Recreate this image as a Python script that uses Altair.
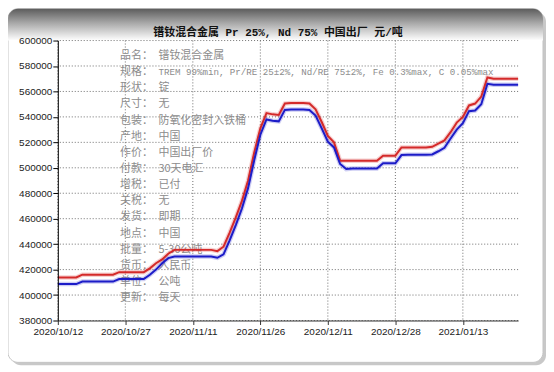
import json
import altair as alt
import pandas as pd

title_text = "镨钕混合金属 Pr 25%, Nd 75% 中国出厂 元/吨"

x_tick_index = [0, 11, 22, 33, 44, 55, 66]
x_tick_labels = ["2020/10/12", "2020/10/27", "2020/11/11", "2020/11/26",
                 "2020/12/11", "2020/12/28", "2021/01/13"]
y_ticks = [380000, 400000, 420000, 440000, 460000, 480000, 500000,
           520000, 540000, 560000, 580000, 600000]

red = [413800, 413800, 413800, 413800,
       416000, 416000, 416000, 416000, 416000, 416000,
       418000, 418000, 418000, 418000, 418000,
       421000, 425000, 428000, 432500,
       435500, 435500, 435500, 435500, 435500, 435500, 435500,
       434500, 438000, 449000, 461000, 474000, 490000, 512000, 531000, 543000,
       542000, 541500, 550500, 551000, 551000, 551000, 550500,
       546000, 536000, 525000, 520000, 505500,
       505500, 505500, 505500, 505500, 505500, 505500,
       509500, 509500, 509500,
       516000, 516000, 516000, 516000, 516000,
       516500, 519000, 521500, 528000, 535500, 540000, 549000, 550500, 556000, 571000,
       570000, 570000, 570000, 570000, 570000]

blue = [408600, 408600, 408600, 408600,
        410600, 410600, 410600, 410600, 410600, 410600,
        412600, 412600, 412600, 412600, 412600,
        416000, 420000, 425000, 429000,
        430300, 430300, 430300, 430300, 430300, 430300, 430300,
        429300, 432000, 443000, 455000, 468000, 484000, 506000, 526000, 538000,
        537000, 536500, 545500, 545800, 545800, 545800, 545500,
        541000, 531000, 520500, 516000, 503000,
        499000, 499500, 499500, 499500, 499500, 499500,
        503500, 503500, 503500,
        510000, 510200, 510200, 510200, 510200,
        510500, 513000, 515700, 523000, 530000, 535000, 544500, 545000, 550000, 566000,
        565200, 565200, 565200, 565200, 565200]

info_labels = ["品名：", "规格：", "形状：", "尺寸：", "包装：", "产地：", "作价：", "付款：",
               "增税：", "关税：", "发货：", "地点：", "批量：", "货币：", "单位：", "更新："]
info_values = ["镨钕混合金属",
               "TREM 99%min, Pr/RE 25±2%, Nd/RE 75±2%, Fe 0.3%max, C 0.05%max",
               "锭", "无", "防氧化密封入铁桶", "中国", "中国出厂价", "30天电汇",
               "已付", "无", "即期", "中国", "5-30公吨", "人民币", "公吨", "每天"]

series_names = ["red", "blue"]
series_colors = ["#d42a2a", "#1c1cc8"]

rows = []
for i, v in enumerate(red):
    rows.append({"i": i, "v": v, "s": "red"})
for i, v in enumerate(blue):
    rows.append({"i": i, "v": v, "s": "blue"})
df = pd.DataFrame(rows)

W, H = 462, 281
one = alt.Data(values=[{"k": 1}])
ROW_TOP = 9.5
ROW_H = 16.2

xscale = alt.Scale(domain=[0, 75], nice=False, zero=False)
yscale = alt.Scale(domain=[380000, 600000], nice=False, zero=False)

label_expr = json.dumps(x_tick_labels) + "[indexof(" + json.dumps(x_tick_index) + ", datum.value)]"

xaxis = alt.Axis(values=x_tick_index, labelExpr=label_expr, title=None,
                 grid=False, tickSize=4, labelPadding=2, labelFontSize=10,
                 labelFont="Liberation Sans", labelColor="#222222",
                 domainColor="#333333", tickColor="#333333",
                 labelOverlap=False, labelFlush=False, zindex=1)
yaxis = alt.Axis(values=y_ticks, format="d", title=None, grid=False,
                 tickSize=5, labelPadding=1, labelFontSize=10,
                 labelFont="Liberation Sans", labelColor="#222222",
                 domainColor="#000000", tickColor="#000000",
                 labelOverlap=False, labelSeparation=0, zindex=1)

shadow = alt.Chart(one).mark_rect(color="#9a9a9a", opacity=0.55, cornerRadius=10).encode(
    x=alt.value(-47), x2=alt.value(490), y=alt.value(-29), y2=alt.value(326))
card = alt.Chart(one).mark_rect(fill="#ffffff", stroke="#c4c4c4", strokeWidth=1, cornerRadius=10).encode(
    x=alt.value(-50), x2=alt.value(487), y=alt.value(-32), y2=alt.value(323))
header = alt.Chart(one).mark_rect(
    fill=alt.LinearGradient(gradient="linear", x1=0, y1=0, x2=0, y2=1,
                            stops=[alt.GradientStop(color="#5c5c5c", offset=0),
                                   alt.GradientStop(color="#a8a8a8", offset=0.45),
                                   alt.GradientStop(color="#ffffff", offset=1)]),
    cornerRadiusTopLeft=10, cornerRadiusTopRight=10).encode(
    x=alt.value(-50), x2=alt.value(487), y=alt.value(-32), y2=alt.value(0))

ygrid = alt.Chart(pd.DataFrame({"v": y_ticks})).mark_rule(
    color="#6e6e6e", strokeDash=[1, 2], strokeWidth=1).encode(
    y=alt.Y("v:Q", scale=yscale, axis=yaxis))
xgrid = alt.Chart(pd.DataFrame({"i": x_tick_index})).mark_rule(
    color="#6e6e6e", strokeDash=[1, 2], strokeWidth=1).encode(
    x=alt.X("i:Q", scale=xscale, axis=xaxis))

txt_style = dict(align="left", baseline="top", fontSize=11, lineHeight=ROW_H,
                 font="Noto Sans CJK SC", color="#8c8c8c")
lab_txt = alt.Chart(one).mark_text(**txt_style).encode(
    x=alt.value(62.5), y=alt.value(ROW_TOP), text=alt.value(info_labels))
val0_txt = alt.Chart(one).mark_text(**txt_style).encode(
    x=alt.value(101), y=alt.value(ROW_TOP), text=alt.value(info_values[0]))
val_rest_txt = alt.Chart(one).mark_text(**txt_style).encode(
    x=alt.value(101), y=alt.value(ROW_TOP + 2 * ROW_H), text=alt.value(info_values[2:]))
spec_txt = alt.Chart(one).mark_text(
    align="left", baseline="middle", fontSize=9.2,
    font="'Liberation Mono', 'Noto Sans CJK SC'", color="#8c8c8c").encode(
    x=alt.value(101), y=alt.value(ROW_TOP + ROW_H + 5.5), text=alt.value(info_values[1]))

title_mark = alt.Chart(one).mark_text(
    align="center", baseline="middle", fontSize=11, fontWeight="bold",
    font="'Liberation Mono', 'Noto Sans CJK SC'", color="#111111").encode(
    x=alt.value(221), y=alt.value(-7.5), text=alt.value(title_text))

xenc = alt.X("i:Q", scale=xscale, axis=xaxis)
yenc = alt.Y("v:Q", scale=yscale, axis=yaxis)
cenc = alt.Color("s:N", scale=alt.Scale(domain=series_names, range=series_colors), legend=None)

halo = alt.Chart(df).mark_line(strokeWidth=4.5, opacity=0.22).encode(
    x=xenc, y=yenc, color=cenc, detail="s:N")
lines = alt.Chart(df).mark_line(strokeWidth=2).encode(
    x=xenc, y=yenc, color=cenc, detail="s:N")

chart = alt.layer(shadow, card, header, ygrid, xgrid, lab_txt, val0_txt, val_rest_txt,
                  spec_txt, title_mark, halo, lines).properties(
    width=W, height=H,
    padding={"left": 50, "top": 32, "right": 28, "bottom": 45},
    autosize=alt.AutoSizeParams(type="none"),
).configure_view(stroke=None).configure(background="#ffffff")

chart.save("out.html", embed_options={"renderer": "svg", "actions": False})
